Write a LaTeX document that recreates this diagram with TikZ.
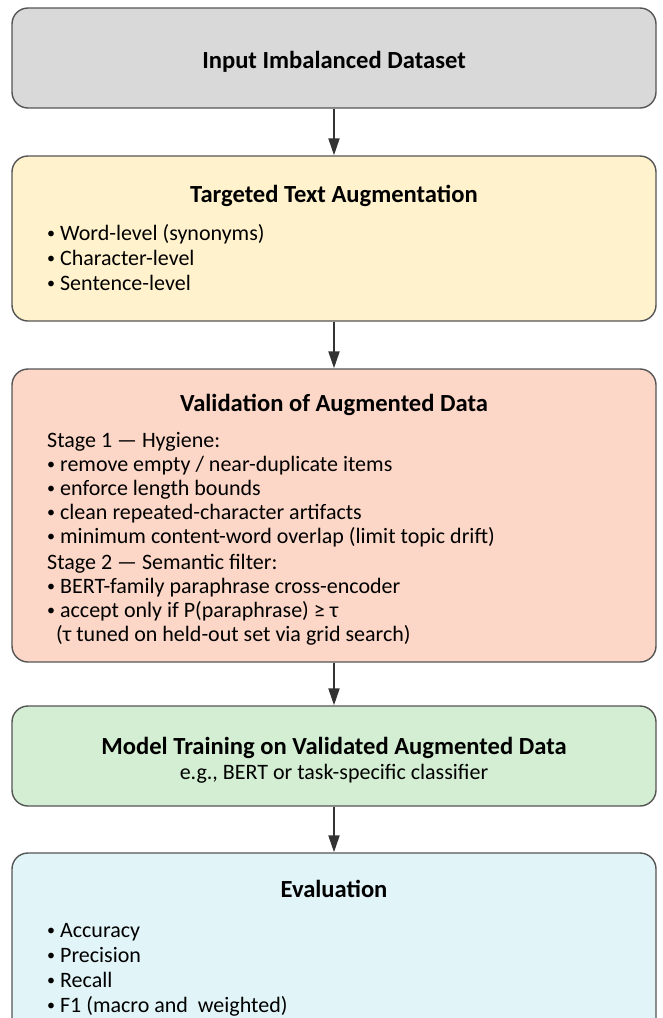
\documentclass[tikz,border=0pt]{standalone}
\usepackage{fontspec}
\setmainfont{Carlito}
\usetikzlibrary{arrows.meta}
\definecolor{cgray}{HTML}{D9D9D9}
\definecolor{cyellow}{HTML}{FFF2CC}
\definecolor{csalmon}{HTML}{FCD6C6}
\definecolor{cgreen}{HTML}{D3EED2}
\definecolor{cblue}{HTML}{E1F4F8}
\definecolor{cedge}{HTML}{555555}
\definecolor{carrow}{HTML}{333333}
\newcommand\bul{\raisebox{2pt}{\fontsize{16}{16}\selectfont•}\ }
\tikzset{
  box/.style={draw=cedge, line width=1.4pt, rounded corners=16pt, minimum width=644pt, inner sep=0pt},
  ttl/.style={anchor=base, inner sep=0pt, font=\fontsize{24.6}{28}\selectfont\bfseries},
  body/.style={anchor=base west, inner sep=0pt, font=\fontsize{22}{24}\selectfont},
  bodyc/.style={anchor=base, inner sep=0pt, font=\fontsize{22}{24}\selectfont},
  flow/.style={draw=carrow, line width=2pt, -{Triangle[length=17pt,width=11pt]}}
}
\begin{document}
\begin{tikzpicture}[x=1pt,y=-1pt]
\useasboundingbox (0,0) rectangle (662,1018);
\clip (0,0) rectangle (662,1018);
% boxes
\node[box, fill=cgray, minimum height=100pt] (b1) at (334,58) {};
\node[box, fill=cyellow, minimum height=165pt] (b2) at (334,238.5) {};
\node[box, fill=csalmon, minimum height=293pt] (b3) at (334,515.5) {};
\node[box, fill=cgreen, minimum height=100pt] (b4) at (334,756) {};
\node[box, fill=cblue, minimum height=200pt] (b5) at (334,953) {};
% arrows
\draw[flow] (b1.south) -- (b2.north);
\draw[flow] (b2.south) -- (b3.north);
\draw[flow] (b3.south) -- (b4.north);
\draw[flow] (b4.south) -- (b5.north);
% box 1
\node[ttl] (t1) at (334,68) {Input Imbalanced Dataset};
% box 2
\node[ttl] (t2) at (334,202) {Targeted Text Augmentation};
\node[body] (l21) at (47,240) {\bul Word-level (synonyms)};
\node[body] (l22) at (47,265) {\bul Character-level};
\node[body] (l23) at (47,290) {\bul Sentence-level};
% box 3
\node[ttl] (t3) at (334,411) {Validation of Augmented Data};
\node[body] (l31) at (47,447) {Stage 1 — Hygiene:};
\node[body] (l32) at (47,471) {\bul remove empty / near-duplicate items};
\node[body] (l33) at (47,495) {\bul enforce length bounds};
\node[body] (l34) at (47,519) {\bul clean repeated-character artifacts};
\node[body] (l35) at (47,543) {\bul minimum content-word overlap (limit topic drift)};
\node[body] (l36) at (47,569) {Stage 2 — Semantic filter:};
\node[body] (l37) at (47,593) {\bul BERT-family paraphrase cross-encoder};
\node[body] (l38) at (47,617) {\bul accept only if P(paraphrase) ≥ τ};
\node[body] (l39) at (56,641) {(τ tuned on held-out set via grid search)};
% box 4
\node[ttl] (t4) at (334,754) {Model Training on Validated Augmented Data};
\node[bodyc] (l41) at (334,779) {e.g., BERT or task-specific classifier};
% box 5
\node[ttl] (t5) at (334,897) {Evaluation};
\node[body] (l51) at (47,937) {\bul Accuracy};
\node[body] (l52) at (47,962) {\bul Precision};
\node[body] (l53) at (47,987) {\bul Recall};
\node[body] (l54) at (47,1012) {\bul F1 (macro and\ \ weighted)};
\end{tikzpicture}
\end{document}
